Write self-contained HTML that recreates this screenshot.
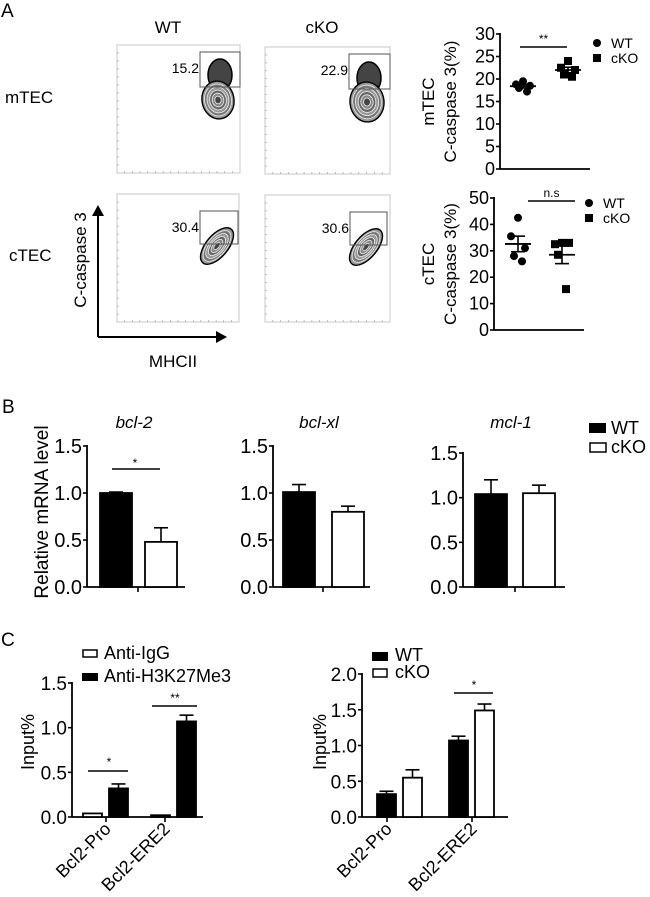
<!DOCTYPE html>
<html><head><meta charset="utf-8"><style>
html,body{margin:0;padding:0;background:#fff;overflow:hidden}
svg{display:block;font-family:"Liberation Sans",Arial,sans-serif}
</style></head><body>
<svg id="fig" width="650" height="897" viewBox="0 0 650 897" xmlns="http://www.w3.org/2000/svg">
<g id="root"></g>
</svg>
<script>
// ---------- DATA ----------
const mtecWT = [19.5, 18.8, 18.5, 18.0, 17.2];
const mtecKO = [24.0, 22.5, 22.0, 21.0, 20.5];
const mtecTicks = [0, 5, 10, 15, 20, 25, 30];
const ctecWT = [42.5, 35.5, 31.0, 28.0, 26.0];
const ctecKO = [33.0, 32.5, 33.0, 28.5, 15.5];
const ctecTicks = [0, 10, 20, 30, 40, 50];
const bGenes = ["bcl-2", "bcl-xl", "mcl-1"];
const bWT = [1.00, 1.01, 1.04];
const bWTerr = [0.01, 0.08, 0.16];
const bKO = [0.48, 0.80, 1.05];
const bKOerr = [0.15, 0.06, 0.09];
const bTicks = ["0.0", "0.5", "1.0", "1.5"];
const cCats = ["Bcl2-Pro", "Bcl2-ERE2"];
const c1IgG = [0.04, 0.02];
const c1H3 = [0.32, 1.07];
const c1H3err = [0.05, 0.07];
const c1Ticks = ["0.0", "0.5", "1.0", "1.5"];
const c2WT = [0.32, 1.07];
const c2WTerr = [0.04, 0.06];
const c2KO = [0.55, 1.49];
const c2KOerr = [0.11, 0.09];
const c2Ticks = ["0.0", "0.5", "1.0", "1.5", "2.0"];
const flowPcts = ["15.2", "22.9", "30.4", "30.6"];

// ---------- helpers ----------
const NS = "http://www.w3.org/2000/svg";
const root = document.getElementById("root");
function el(tag, attrs, parent, txt){
  const e = document.createElementNS(NS, tag);
  for (const k in attrs) e.setAttribute(k, attrs[k]);
  if (txt !== undefined) e.textContent = txt;
  (parent || root).appendChild(e);
  return e;
}
function line(x1,y1,x2,y2,w,p){ return el("line",{x1,y1,x2,y2,stroke:"#000","stroke-width":w||1.6},p); }
function text(x,y,s,size,anchor,p,extra){
  const a = Object.assign({x,y,"font-size":size,"text-anchor":anchor||"start",fill:"#000"}, extra||{});
  return el("text",a,p,s);
}
function scale(d0,d1,r0,r1){ return v => r0 + (v-d0)/(d1-d0)*(r1-r0); }

// ---------- Panel letters ----------
let t;
t = text(1,17,"A",19);  
t = text(2,413,"B",19);  
t = text(1,646,"C",19);  

// ---------- Flow plots ----------
t = text(168,33,"WT",17,"middle");  
t = text(322,33,"cKO",17,"middle");  
t = text(5,103,"mTEC",17);  
t = text(9,261,"cTEC",17);  

const flowBoxes = [[117,45,123,128],[265,47,125,127],[117,194,122,128],[265,195,125,127]];
const gates = [[200,52,40,35],[349,54,41,35],[200,211,38,33],[350,212,37,33]];
const blobs = [
  {cx:218,cy:100,rx:16,ry:19,rot:-10,top:[220,75,12,16]},
  {cx:367,cy:102,rx:17,ry:20,rot:-5,top:[369,78,12,16]},
  {cx:217,cy:246,rx:11,ry:22,rot:40,top:null},
  {cx:366,cy:247,rx:11,ry:22,rot:40,top:null}
];
for (let i=0;i<4;i++){
  const g = el("g",{});
  
  
  const [x,y,w,h] = flowBoxes[i];
  el("rect",{x,y,width:w,height:h,fill:"none",stroke:"#c8c8c8","stroke-width":1},g);
  for (let k=1;k<16;k++){
    line(x+k*w/16,y+h,x+k*w/16,y+h-2,0.6,g).setAttribute("stroke","#999");
    line(x,y+k*h/16,x+2,y+k*h/16,0.6,g).setAttribute("stroke","#999");
  }
  const b = blobs[i];
  if (b.top){
    el("ellipse",{cx:b.top[0],cy:b.top[1],rx:b.top[2],ry:b.top[3],fill:"#444",stroke:"#000","stroke-width":1.5},g);
  }
  const grp = el("g",{transform:`rotate(${b.rot} ${b.cx} ${b.cy})`},g);
  const fills=["#999","#777","#999","#666","#888","#444"];
  for (let k=0;k<6;k++){
    const f=1-k*0.16;
    el("ellipse",{cx:b.cx,cy:b.cy,rx:b.rx*f,ry:b.ry*f,fill:fills[k],stroke:k==0?"#000":"#eee","stroke-width":k==0?1.4:0.8},grp);
  }
  const [gx,gy,gw,gh] = gates[i];
  const gr = el("rect",{x:gx,y:gy,width:gw,height:gh,fill:"none",stroke:"#555","stroke-width":1},g);
  
  
  const lt = text(gx-1,gy+21,flowPcts[i],14,"end",g);
  
  
}
// arrows
const ar = el("g",{});


line(98,212,98,337,2,ar); line(98,337,220,337,2,ar);
el("polygon",{points:"92,216 104,216 98,205",fill:"#000"},ar);
el("polygon",{points:"216,331 216,343 227,337",fill:"#000"},ar);
t = text(0,0,"C-caspase 3",17,"middle",null,{transform:"translate(86,260) rotate(-90)"});
 
t = text(173,367,"MHCII",17,"middle");  

// ---------- Scatter plots ----------
function scatter(opts){
  const g = el("g",{});
  
  
  const y = scale(opts.ticks[0], opts.ticks[opts.ticks.length-1], opts.y0, opts.y1);
  line(opts.ax, opts.y1-1, opts.ax, opts.y0, 1.8, g);
  line(opts.ax, opts.y0, opts.axEnd, opts.y0, 1.8, g);
  opts.ticks.forEach(v=>{
    line(opts.ax-4,y(v),opts.ax,y(v),1.6,g);
    const tl = text(opts.ax-5,y(v)+6,String(v),18,"end",g);
    
    
  });
  const groups=[[opts.wt,opts.xw,"circle"],[opts.ko,opts.xk,"square"]];
  groups.forEach(([vals,cx,shape])=>{
    const n=vals.length, mean=vals.reduce((a,b)=>a+b,0)/n;
    const sd=Math.sqrt(vals.reduce((a,b)=>a+(b-mean)**2,0)/(n-1)), sem=sd/Math.sqrt(n);
    const offs=[0,-7,7,-4,4];
    vals.forEach((v,i)=>{
      const px=cx+offs[i], py=y(v);
      let m;
      if (shape=="circle") m=el("circle",{cx:px,cy:py,r:4,fill:"#000"},g);
      else m=el("rect",{x:px-4,y:py-4,width:8,height:8,fill:"#000"},g);
      
      
    });
    line(cx-13,y(mean),cx+13,y(mean),1.8,g);
    line(cx,y(mean-sem),cx,y(mean+sem),1.6,g);
    line(cx-7,y(mean-sem),cx+7,y(mean-sem),1.6,g);
    line(cx-7,y(mean+sem),cx+7,y(mean+sem),1.6,g);
  });
  const sl = line(opts.sig[0],opts.sig[2],opts.sig[1],opts.sig[2],1.6,g);
  
  const st = text((opts.sig[0]+opts.sig[1])/2,opts.sig[2]-4,opts.sigText,12,"middle",g);
   
  const l1 = text(0,0,opts.label1,17,"middle",g,{transform:`translate(${opts.lx1},${(opts.y0+opts.y1)/2}) rotate(-90)`});
   
  const l2 = text(0,0,"C-caspase 3(%)",17,"middle",g,{transform:`translate(${opts.lx2},${(opts.y0+opts.y1)/2}) rotate(-90)`});
   
  const lg = el("g",{},g);
   
  el("circle",{cx:opts.lgx,cy:opts.lgy,r:4,fill:"#000"},lg);
  text(opts.lgx+14,opts.lgy+5,"WT",14,"start",lg);
  el("rect",{x:opts.lgx-4,y:opts.lgy+11,width:8,height:8,fill:"#000"},lg);
  text(opts.lgx+14,opts.lgy+20,"cKO",14,"start",lg);
}
scatter({name:"mtec-scatter",wt:mtecWT,ko:mtecKO,ticks:mtecTicks,ax:500,axEnd:590,y0:169,y1:34,xw:523,xk:568,
  sig:[520,567,47],sigText:"**",label1:"mTEC",lx1:434,lx2:456,lgx:597,lgy:43});
scatter({name:"ctec-scatter",wt:ctecWT,ko:ctecKO,ticks:ctecTicks,ax:494,axEnd:584,y0:330,y1:198,xw:518,xk:562,
  sig:[528,575,201],sigText:"n.s",label1:"cTEC",lx1:434,lx2:456,lgx:589,lgy:203});

// ---------- Bar helper ----------
function bar(g,x,w,y,v,err,fill,yZero){
  const r = el("rect",{x,y:y(v),width:w,height:yZero-y(v),fill,stroke:"#000","stroke-width":1.8},g);
  
  
  if (err>0){
    const cx=x+w/2;
    line(cx,y(v),cx,y(v+err),1.6,g);
    line(cx-7,y(v+err),cx+7,y(v+err),1.6,g);
  }
}
function yaxis(g,ax,y0,y1,ticks,fs){
  line(ax,y1-1,ax,y0,1.8,g);
  const ys=scale(+ticks[0],+ticks[ticks.length-1],y0,y1);
  ticks.forEach(s=>{
    line(ax-4,ys(+s),ax,ys(+s),1.6,g);
    const tl=text(ax-5,ys(+s)+7,s,fs||19,"end",g);
    
    
  });
  return ys;
}

// ---------- Panel B ----------
const bAx=[87,273,463], bEnd=[185,370,565], bTop=[446,446,453], bTick=[138,323,515];
const bWx=[100,283,475], bKx=[145,332,523];
for (let i=0;i<3;i++){
  const g=el("g",{});
  
  
  const y0=587;
  const ys=yaxis(g,bAx[i],y0,bTop[i],bTicks,20);
  line(bAx[i],y0,bEnd[i],y0,1.8,g);
  line(bTick[i],y0,bTick[i],y0+5,1.6,g);
  bar(g,bWx[i],32,ys,bWT[i],bWTerr[i],"#000",y0);
  bar(g,bKx[i],32,ys,bKO[i],bKOerr[i],"#fff",y0);
  const tt=text(bTick[i]-4,428,bGenes[i],17,"middle",g,{"font-style":"italic"});
   
}
{
  const sl=line(112,469,160,469,1.6); 
  t=text(135,467,"*",12,"middle");  
  t=text(0,0,"Relative mRNA level",19,"middle",null,{transform:"translate(48,512) rotate(-90)"});
   
  const lg=el("g",{});  
  el("rect",{x:589,y:423,width:17,height:10,fill:"#000"},lg);
  text(611,434,"WT",18,"start",lg);
  el("rect",{x:590,y:443,width:16,height:9,fill:"#fff",stroke:"#000","stroke-width":1.5},lg);
  text(611,453,"cKO",18,"start",lg);
}

// ---------- Panel C ----------
function cChart(name,ax,axEnd,y1,ticks,s1,e1,s2,e2,fill1,fill2,barX,ticksX,lx){
  const g=el("g",{});
  
  
  const y0=817;
  const ys=yaxis(g,ax,y0,y1,ticks,19);
  line(ax,y0,axEnd,y0,1.8,g);
  for (let i=0;i<2;i++){
    bar(g,barX[i],19,ys,s1[i],e1[i],fill1,y0);
    bar(g,barX[i]+26,19,ys,s2[i],e2[i],fill2,y0);
    line(ticksX[i],y0,ticksX[i],y0+5,1.6,g);
    const xl=text(0,0,cCats[i],18,"end",g,{transform:`translate(${ticksX[i]+6},${y0+13}) rotate(-45)`});
    
    
  }
  const yt=text(0,0,"Input%",18,"middle",g,{transform:`translate(${lx},742) rotate(-90)`});
   
  return {g,ys};
}
cChart("chip-chart-igg-h3k27me3",72,203,683,c1Ticks,c1IgG,[0,0],c1H3,c1H3err,"#fff","#000",[83,151],[106,165],34);
cChart("chip-chart-wt-cko",362,508,674,c2Ticks,c2WT,c2WTerr,c2KO,c2KOerr,"#000","#fff",[377,449],[387,472],326);
{
  let s=line(88,771,128,771,1.6); 
  t=text(109,766,"*",12,"middle");  
  s=line(152,706,197,706,1.6); 
  t=text(175,702,"**",12,"middle");  
  s=line(454,693,493,693,1.6); 
  t=text(474,689,"*",12,"middle");  
  const l1=el("g",{});  
  el("rect",{x:83,y:650,width:14,height:7,fill:"#fff",stroke:"#000","stroke-width":1.5},l1);
  text(104,659,"Anti-IgG",18,"start",l1);
  el("rect",{x:82,y:673,width:16,height:8,fill:"#000"},l1);
  text(104,682,"Anti-H3K27Me3",18,"start",l1);
  const l2=el("g",{});  
  el("rect",{x:372,y:652,width:16,height:9,fill:"#000"},l2);
  text(395,661,"WT",18,"start",l2);
  el("rect",{x:373,y:669,width:14,height:8,fill:"#fff",stroke:"#000","stroke-width":1.5},l2);
  text(395,678,"cKO",18,"start",l2);
}
</script>
</body></html>
